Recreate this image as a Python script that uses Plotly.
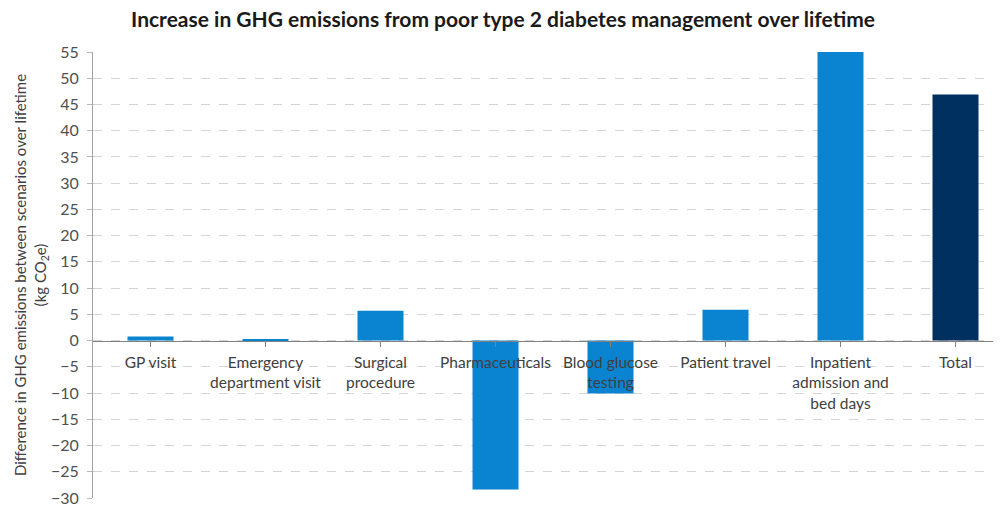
import plotly.graph_objects as go

categories = ["GP visit", "Emergency<br>department visit", "Surgical<br>procedure",
              "Pharmaceuticals", "Blood glucose<br>testing", "Patient travel",
              "Inpatient<br>admission and<br>bed days", "Total"]
values = [0.8, 0.3, 5.7, -28.4, -10.1, 5.9, 55.0, 46.9]
bar_colors = ["#0a84d0"] * 7 + ["#00305f"]
y_ticks = list(range(-30, 56, 5))

title = "Increase in GHG emissions from poor type 2 diabetes management over lifetime"
y_title = "Difference in GHG emissions between scenarios over lifetime<br>(kg CO<sub>2</sub>e)"

FONT = "Lato"
ymin, ymax = -30, 55
idx = list(range(len(categories)))

fig = go.Figure()
fig.add_trace(go.Bar(x=idx, y=values, marker=dict(color=bar_colors, line=dict(width=0)),
                     width=0.4, hoverinfo="skip"))

fig.update_layout(
    width=993, height=499,
    margin=dict(l=85, r=0, t=44, b=9),
    paper_bgcolor="white", plot_bgcolor="white",
    showlegend=False,
    title=dict(text="<b>" + title + "</b>", x=0.4985, xanchor="center", y=0.992, yanchor="top",
               font=dict(family=FONT, size=21, color="#1a1a1a")),
    font=dict(family=FONT, color="#404040"),
    xaxis=dict(
        tickmode="array", tickvals=idx, ticktext=categories,
        range=[-0.5, 908 / 115 - 0.5],
        anchor="free", position=(0 - ymin) / (ymax - ymin),
        showline=True, linecolor="#808080", linewidth=1.3,
        ticks="outside", tickson="boundaries", ticklen=5, tickcolor="#808080",
        ticklabelstandoff=3,
        showgrid=False, zeroline=False,
        tickfont=dict(family=FONT, size=15.5, color="#404040"),
    ),
    yaxis=dict(
        range=[ymin, ymax], tickmode="array", tickvals=y_ticks,
        showline=True, linecolor="#a0a0a0", linewidth=1,
        ticks="outside", ticklen=5, tickcolor="#b8b8b8",
        ticklabelstandoff=5,
        showgrid=True, gridcolor="#d4d4d4", griddash="dash", gridwidth=1,
        zeroline=False,
        tickfont=dict(family=FONT, size=16, color="#505050"),
        title=dict(text=y_title, font=dict(family=FONT, size=15, color="#404040"), standoff=0),
    ),
)

fig.write_html("out.html")
